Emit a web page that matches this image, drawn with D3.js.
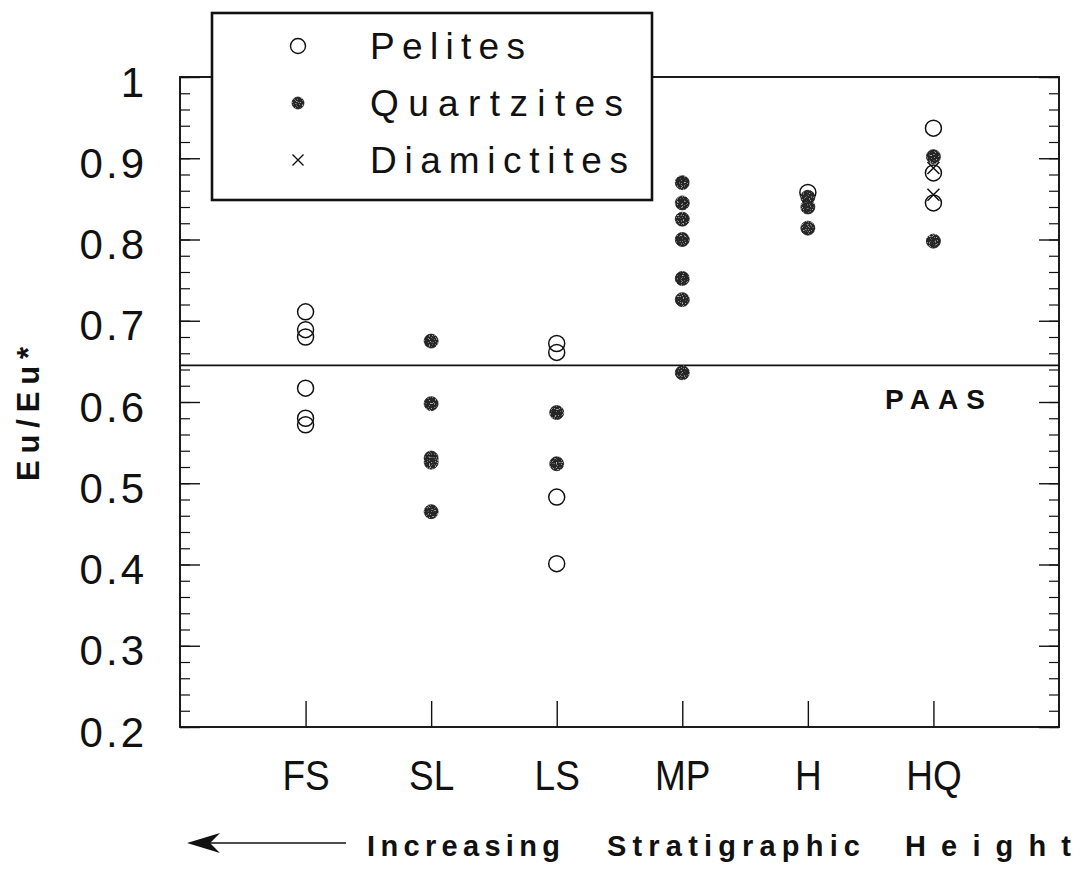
<!DOCTYPE html>
<html>
<head>
<meta charset="utf-8">
<script src="https://cdn.jsdelivr.net/npm/d3@7"></script>
<style>
  html, body { margin: 0; padding: 0; background: #fff; }
  svg { display: block; }
</style>
</head>
<body>
<svg id="chart" width="1082" height="888"></svg>
<script>
// Stratigraphic units, oldest-to-youngest order as plotted
const categories = ["FS", "SL", "LS", "MP", "H", "HQ"];

// Eu/Eu* values by unit for each lithology
const pelites = [
  ["FS", 0.711], ["FS", 0.689], ["FS", 0.680], ["FS", 0.617], ["FS", 0.580], ["FS", 0.572],
  ["LS", 0.672], ["LS", 0.661], ["LS", 0.483], ["LS", 0.401],
  ["H", 0.858],
  ["HQ", 0.937], ["HQ", 0.882], ["HQ", 0.845]
];
const quartzites = [
  ["SL", 0.675], ["SL", 0.598], ["SL", 0.531], ["SL", 0.526], ["SL", 0.465],
  ["LS", 0.587], ["LS", 0.524],
  ["MP", 0.870], ["MP", 0.845], ["MP", 0.825], ["MP", 0.800], ["MP", 0.752], ["MP", 0.726], ["MP", 0.636],
  ["H", 0.852], ["H", 0.840], ["H", 0.814],
  ["HQ", 0.902], ["HQ", 0.798]
];
const diamictites = [
  ["HQ", 0.888], ["HQ", 0.855]
];

// Post-Archean Australian Shale reference
const paasValue = 0.645;

const yMajorTicks = [0.2, 0.3, 0.4, 0.5, 0.6, 0.7, 0.8, 0.9, 1.0];
const yMinorTicks = d3.range(0.2, 1.0001, 0.02).map(v => +v.toFixed(2));

const legendLabels = ["Pelites", "Quartzites", "Diamictites"];
const axisTitle = "Eu/Eu*";
const footerWords = ["Increasing", "Stratigraphic", "Height"];

const svg = d3.select("#chart");
const plot = { left: 180, right: 1059, top: 77, bottom: 727 };

const x = d3.scalePoint().domain(categories).range([plot.left, plot.right]).padding(1);
const y = d3.scaleLinear().domain([0.2, 1.0]).range([plot.bottom, plot.top]);

const ink = "#111";
const dotFill = "#262626";

// Sparse light speckle on the solid symbols
const defs = svg.append("defs");
const grain = defs.append("filter").attr("id", "grain")
  .attr("x", "-10%").attr("y", "-10%").attr("width", "120%").attr("height", "120%");
grain.append("feTurbulence").attr("type", "fractalNoise")
  .attr("baseFrequency", 0.85).attr("numOctaves", 1).attr("seed", 5).attr("result", "noise");
grain.append("feColorMatrix").attr("in", "noise").attr("type", "matrix")
  .attr("values", "0 0 0 0 0.62  0 0 0 0 0.62  0 0 0 0 0.62  0 0 0 -4 1.7")
  .attr("result", "spots");
grain.append("feComposite").attr("in", "spots").attr("in2", "SourceGraphic")
  .attr("operator", "in").attr("result", "clipped");
grain.append("feMerge").call(m => {
  m.append("feMergeNode").attr("in", "SourceGraphic");
  m.append("feMergeNode").attr("in", "clipped");
});

const sans = "'Liberation Sans', Arial, sans-serif";

// Left axis: major ticks with labels, minor ticks, all pointing inward
const leftMajor = svg.append("g")
  .attr("transform", `translate(${plot.left},0)`)
  .call(d3.axisLeft(y).tickValues(yMajorTicks).tickSize(-20).tickPadding(33)
    .tickFormat(d => d === 1 ? "1" : d.toFixed(1)));
leftMajor.select(".domain").remove();
leftMajor.selectAll("line").attr("stroke", ink).attr("stroke-width", 1.4);
leftMajor.selectAll("text")
  .attr("font-family", sans)
  .attr("font-size", 42)
  .attr("letter-spacing", 3)
  .attr("fill", ink)
  .attr("dy", 19);

const leftMinor = svg.append("g")
  .attr("transform", `translate(${plot.left},0)`)
  .call(d3.axisLeft(y).tickValues(yMinorTicks).tickSize(-10).tickFormat(""));
leftMinor.select(".domain").remove();
leftMinor.selectAll("line").attr("stroke", ink).attr("stroke-width", 1.2);

// Right axis mirrors the left ticks
const rightMajor = svg.append("g")
  .attr("transform", `translate(${plot.right},0)`)
  .call(d3.axisRight(y).tickValues(yMajorTicks).tickSize(-20).tickFormat(""));
rightMajor.select(".domain").remove();
rightMajor.selectAll("line").attr("stroke", ink).attr("stroke-width", 1.4);

const rightMinor = svg.append("g")
  .attr("transform", `translate(${plot.right},0)`)
  .call(d3.axisRight(y).tickValues(yMinorTicks).tickSize(-10).tickFormat(""));
rightMinor.select(".domain").remove();
rightMinor.selectAll("line").attr("stroke", ink).attr("stroke-width", 1.2);

// Bottom axis with unit labels
const bottom = svg.append("g")
  .attr("transform", `translate(0,${plot.bottom})`)
  .call(d3.axisBottom(x).tickSize(-26).tickPadding(32));
bottom.select(".domain").remove();
bottom.selectAll("line").attr("stroke", ink).attr("stroke-width", 1.4);
bottom.selectAll("text")
  .attr("font-family", sans)
  .attr("font-size", 43)
  .attr("fill", ink)
  .attr("transform", "scale(0.86,1)");

// Plot frame
svg.append("rect")
  .attr("x", plot.left).attr("y", plot.top)
  .attr("width", plot.right - plot.left).attr("height", plot.bottom - plot.top)
  .attr("fill", "none").attr("stroke", ink).attr("stroke-width", 1.9);

// PAAS reference line and label
svg.append("line")
  .attr("x1", plot.left).attr("x2", plot.right)
  .attr("y1", y(paasValue)).attr("y2", y(paasValue))
  .attr("stroke", ink).attr("stroke-width", 1.8);
svg.append("text")
  .attr("x", 885).attr("y", y(paasValue) + 44)
  .attr("font-family", sans)
  .attr("font-weight", "bold").attr("font-size", 28)
  .attr("textLength", 100).attr("lengthAdjust", "spacing")
  .attr("fill", ink)
  .text("PAAS");

// Data markers
const marks = svg.append("g");
marks.selectAll("circle.pel").data(pelites).join("circle")
  .attr("class", "pel")
  .attr("cx", d => x(d[0])).attr("cy", d => y(d[1]))
  .attr("r", 8)
  .attr("fill", "none").attr("stroke", ink).attr("stroke-width", 1.5);

marks.selectAll("circle.qtz").data(quartzites).join("circle")
  .attr("class", "qtz")
  .attr("cx", d => x(d[0])).attr("cy", d => y(d[1]))
  .attr("r", 7)
  .attr("fill", dotFill).attr("stroke", "#1a1a1a").attr("stroke-width", 0.8)
  .attr("filter", "url(#grain)");

const cross = 6;
marks.selectAll("path.dia").data(diamictites).join("path")
  .attr("class", "dia")
  .attr("d", d => {
    const cx = x(d[0]), cy = y(d[1]);
    return `M${cx - cross},${cy - cross}L${cx + cross},${cy + cross}M${cx - cross},${cy + cross}L${cx + cross},${cy - cross}`;
  })
  .attr("stroke", ink).attr("stroke-width", 1.5).attr("fill", "none");

// Legend box sits over the top frame
const legend = svg.append("g");
legend.append("rect")
  .attr("x", 212).attr("y", 13).attr("width", 440).attr("height", 187)
  .attr("fill", "#fff").attr("stroke", ink).attr("stroke-width", 2.6);

const legendY = d3.scalePoint().domain(legendLabels).range([46, 160]);
const legendWidths = [155, 253, 258];
const legendMarkX = 298;
legend.append("circle")
  .attr("cx", legendMarkX).attr("cy", legendY("Pelites")).attr("r", 7.5)
  .attr("fill", "none").attr("stroke", ink).attr("stroke-width", 1.4);
legend.append("circle")
  .attr("cx", legendMarkX).attr("cy", legendY("Quartzites")).attr("r", 6)
  .attr("fill", dotFill).attr("stroke", "#1a1a1a").attr("stroke-width", 0.8)
  .attr("filter", "url(#grain)");
legend.append("path")
  .attr("d", () => {
    const cx = legendMarkX, cy = legendY("Diamictites"), s = 5.5;
    return `M${cx - s},${cy - s}L${cx + s},${cy + s}M${cx - s},${cy + s}L${cx + s},${cy - s}`;
  })
  .attr("stroke", ink).attr("stroke-width", 1.4);

legend.selectAll("text").data(legendLabels).join("text")
  .attr("x", 370).attr("y", d => legendY(d) + 13)
  .attr("font-family", sans)
  .attr("font-size", 37)
  .attr("textLength", (d, i) => legendWidths[i]).attr("lengthAdjust", "spacing")
  .attr("fill", ink)
  .text(d => d);

// Y-axis title
svg.append("text")
  .attr("transform", "translate(39,414) rotate(-90)")
  .attr("text-anchor", "middle")
  .attr("font-family", sans)
  .attr("font-weight", "bold").attr("font-size", 31)
  .attr("textLength", 134).attr("lengthAdjust", "spacing")
  .attr("fill", ink)
  .text(axisTitle);

// Direction arrow and caption beneath the axis
const arrowY = 843;
svg.append("line")
  .attr("x1", 205).attr("x2", 346).attr("y1", arrowY).attr("y2", arrowY)
  .attr("stroke", ink).attr("stroke-width", 1.5);
svg.append("path")
  .attr("d", `M187,${arrowY}L220,${arrowY - 10}L210,${arrowY}L220,${arrowY + 10}Z`)
  .attr("fill", ink);

const footerX = [367, 607, 905];
const footerWidths = [193, 253, 166];
svg.selectAll("text.footer").data(footerWords).join("text")
  .attr("class", "footer")
  .attr("x", (d, i) => footerX[i]).attr("y", 856)
  .attr("font-family", sans)
  .attr("font-weight", "bold").attr("font-size", 29)
  .attr("textLength", (d, i) => footerWidths[i]).attr("lengthAdjust", "spacing")
  .attr("fill", ink)
  .text(d => d);
</script>
</body>
</html>
